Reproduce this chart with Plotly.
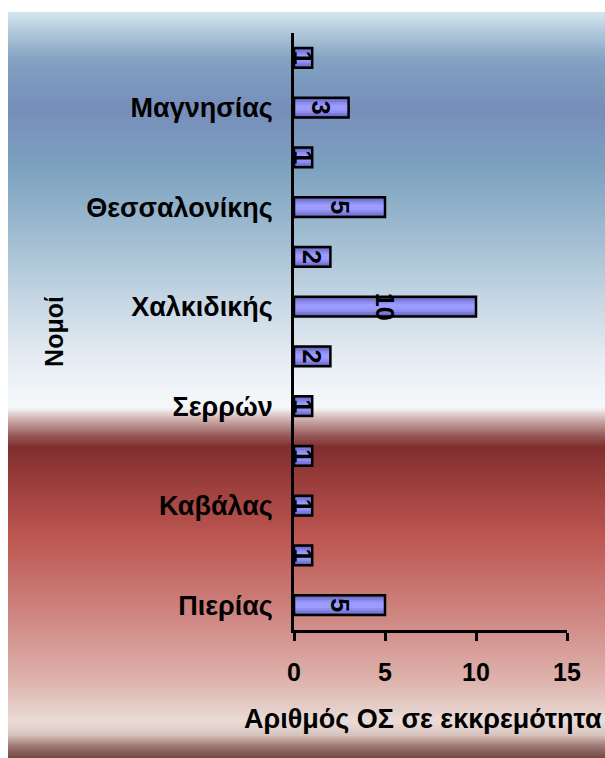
import numpy as np
import plotly.graph_objects as go

# Pending cases (ΟΣ σε εκκρεμότητα) per row, listed bottom to top
positions = list(range(12))
pending = [5, 1, 1, 1, 1, 2, 10, 2, 5, 1, 3, 1]

# Only every second row carries a prefecture label on the axis
label_positions = [0, 2, 4, 6, 8, 10]
prefectures = ["Πιερίας", "Καβάλας", "Σερρών", "Χαλκιδικής", "Θεσσαλονίκης", "Μαγνησίας"]
x_ticks = [0, 5, 10, 15]
x_title = "Αριθμός ΟΣ σε εκκρεμότητα"
y_title = "Νομοί"

W, H = 605, 758
ML, MR, MT, MB = 294, 38, 33, 128
PW, PH = W - ML - MR, H - MT - MB
FONT = "Liberation Sans, Arial, sans-serif"


def px_to_paper_x(px):
    return (px - ML) / PW


def px_to_paper_y(py):
    return (H - MB - py) / PH


# Background: vertical blue -> white -> deep red -> pale pink band
bg_stops = [
    (12, (214, 230, 240)),
    (35, (172, 196, 216)),
    (60, (130, 162, 193)),
    (110, (118, 142, 186)),
    (170, (125, 162, 192)),
    (240, (162, 190, 210)),
    (300, (198, 214, 228)),
    (360, (230, 236, 243)),
    (400, (244, 247, 250)),
    (408, (244, 246, 248)),
    (420, (205, 172, 172)),
    (435, (152, 92, 92)),
    (447, (128, 46, 46)),
    (490, (160, 65, 62)),
    (540, (190, 88, 82)),
    (613, (206, 132, 128)),
    (680, (222, 178, 172)),
    (722, (234, 220, 215)),
    (735, (215, 195, 190)),
    (746, (160, 120, 115)),
    (758, (112, 72, 68)),
]
stop_y = np.array([s[0] for s in bg_stops], dtype=float)
stop_c = np.array([s[1] for s in bg_stops], dtype=float)

shapes = []
step = 2
for y0 in range(12, H, step):
    y1 = min(y0 + step, H)
    yc = (y0 + y1) / 2
    c = [int(round(np.interp(yc, stop_y, stop_c[:, k]))) for k in range(3)]
    shapes.append(dict(
        type="rect", xref="paper", yref="paper", layer="below",
        x0=px_to_paper_x(8), x1=px_to_paper_x(W + 2),
        y0=px_to_paper_y(y1 + 0.5), y1=px_to_paper_y(y0),
        line=dict(width=0), fillcolor=f"rgb({c[0]},{c[1]},{c[2]})",
    ))

fig = go.Figure()

# Bars: layered fills give the lavender bars a shaded, rounded look
bar_layers = [
    (0.40, "rgb(92,92,170)"),
    (0.32, "rgb(122,122,215)"),
    (0.22, "rgb(142,142,242)"),
    (0.12, "rgb(156,156,255)"),
]
for w, col in bar_layers:
    fig.add_trace(go.Bar(
        x=pending, y=positions, orientation="h", width=w,
        marker=dict(color=col, line=dict(width=0)),
        hoverinfo="skip", showlegend=False,
    ))

# Outline and value labels
fig.add_trace(go.Bar(
    x=pending, y=positions, orientation="h", width=0.40,
    marker=dict(color="rgba(0,0,0,0)", line=dict(color="black", width=2.5)),
    text=pending, texttemplate="%{x}", textposition="inside",
    insidetextanchor="middle", textangle=90, constraintext="none",
    textfont=dict(family=FONT, size=25, color="black", weight="bold"),
    showlegend=False,
))

fig.update_layout(
    width=W, height=H,
    template="none",
    barmode="overlay",
    margin=dict(l=ML, r=MR, t=MT, b=MB),
    paper_bgcolor="white",
    plot_bgcolor="rgba(0,0,0,0)",
    font=dict(family=FONT, size=25, color="black", weight="bold"),
    shapes=shapes,
    xaxis=dict(
        range=[0, 15], tickvals=x_ticks, ticktext=[str(v) for v in x_ticks],
        showgrid=False, zeroline=False,
        showline=True, linecolor="black", linewidth=2.5,
        ticks="outside", ticklen=8, tickwidth=2.5, tickcolor="black",
        ticklabelstandoff=10,
        tickfont=dict(family=FONT, size=25, color="black", weight="bold"),
        automargin=False,
    ),
    yaxis=dict(
        range=[-0.5, 11.5], tickvals=label_positions, ticktext=prefectures,
        showgrid=False, zeroline=False,
        showline=True, linecolor="black", linewidth=2.5,
        ticks="", ticklabelstandoff=13,
        tickfont=dict(family=FONT, size=27, color="black", weight="bold"),
        title=dict(text=y_title, standoff=16,
                   font=dict(family=FONT, size=25, color="black", weight="bold")),
        automargin=False,
    ),
    annotations=[dict(
        text=x_title, xref="paper", yref="paper",
        x=px_to_paper_x(423), y=px_to_paper_y(719),
        xanchor="center", yanchor="middle", showarrow=False,
        font=dict(family=FONT, size=27, color="black", weight="bold"),
    )],
)

fig.write_html("out.html")
